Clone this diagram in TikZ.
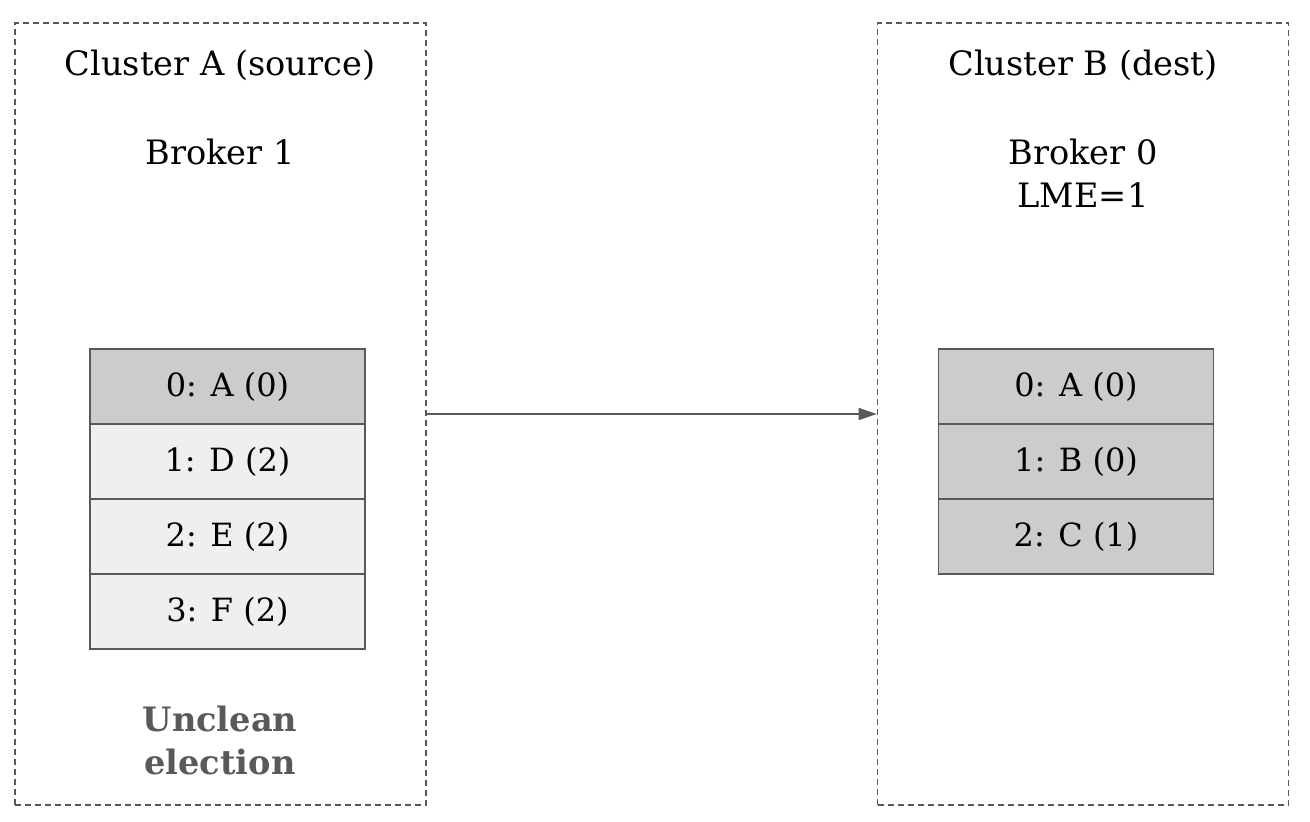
\documentclass[tikz,border=0pt]{standalone}
\usepackage{fontspec}
\setmainfont{DejaVu Serif}
\usetikzlibrary{arrows.meta,positioning}
\definecolor{edgegray}{HTML}{595959}
\definecolor{darkcell}{HTML}{CCCCCC}
\definecolor{lightcell}{HTML}{EFEFEF}

\begin{document}
\begin{tikzpicture}[x=0.5pt,y=-0.5pt,>={Triangle[length=9pt,width=6pt]},
                    cluster/.style={draw=edgegray,dash pattern=on 3pt off 2pt,thick,minimum width=205.5pt,minimum height=391pt,inner sep=0pt},
                    cell/.style={draw=edgegray,thick,minimum width=137.5pt,minimum height=37.5pt,inner sep=0pt,outer sep=0pt,font=\fontsize{16}{19}\selectfont},
                    label/.style={font=\fontsize{16.8}{21.5}\selectfont,align=center}]

 \useasboundingbox (0,0) rectangle (1310,821);

 \node[cluster] (clA) at (220.5,414) {};
 \node[cluster] (clB) at (1083,414) {};

 \node[label] (titleA) at (220,65) {Cluster A (source)};
 \node[label] (brokA)  at (220,152) {Broker 1};
 \node[label] (titleB) at (1083,65) {Cluster B (dest)};
 \node[label] (brokB)  at (1083,173) {Broker 0\\LME=1};

 % source log
 \node[cell,fill=darkcell]  (a0) at (227.5,386.5) {0: A (0)};
 \node[cell,fill=lightcell] (a1) [below=0pt of a0] {1: D (2)};
 \node[cell,fill=lightcell] (a2) [below=0pt of a1] {2: E (2)};
 \node[cell,fill=lightcell] (a3) [below=0pt of a2] {3: F (2)};

 % destination log
 \node[cell,fill=darkcell] (b0) at (1076,386.5) {0: A (0)};
 \node[cell,fill=darkcell] (b1) [below=0pt of b0] {1: B (0)};
 \node[cell,fill=darkcell] (b2) [below=0pt of b1] {2: C (1)};

 \node[label,font=\fontsize{16.8}{21.5}\selectfont\bfseries,text=edgegray] (uncl) at (220,740) {Unclean\\election};

 \draw[->,edgegray,thick] (clA.east) -- (clB.west);

\end{tikzpicture}
\end{document}
